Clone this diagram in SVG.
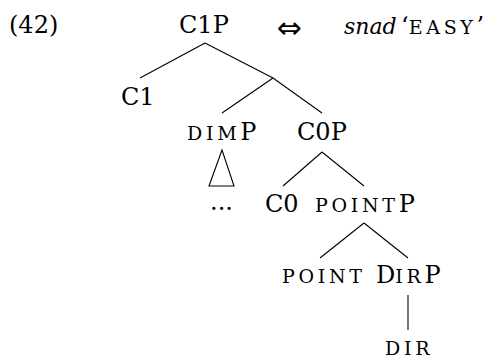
<svg xmlns="http://www.w3.org/2000/svg" width="491" height="361" viewBox="0 0 491 361">
<style>
text{font-family:"DejaVu Serif","Liberation Serif",serif;font-size:24px;fill:#000}
.sc{font-size:19px;letter-spacing:3.7px}
.it{font-style:italic;font-size:22px}
.arr{font-family:"DejaVu Sans",sans-serif;font-size:30px}
#connectors line,#connectors polygon{stroke:#000;stroke-width:1.1;fill:none}
</style>
<rect width="491" height="361" fill="#fff"/>
<g id="connectors">
<line x1="205" y1="43" x2="140" y2="78"/>
<line x1="205" y1="43" x2="273" y2="78"/>
<line x1="273" y1="78" x2="222" y2="113"/>
<line x1="273" y1="78" x2="322" y2="113"/>
<polygon points="222,150 209,186 234,186"/>
<line x1="322" y1="152" x2="283" y2="186"/>
<line x1="322" y1="152" x2="364" y2="186"/>
<line x1="364" y1="223" x2="320" y2="258"/>
<line x1="364" y1="223" x2="408" y2="258"/>
<line x1="408" y1="295" x2="408" y2="330"/>
</g>
<g id="label42"><text x="9" y="33">(42)</text></g>
<g id="C1P"><text x="179" y="33">C1P</text></g>
<g id="equiv"><text class="arr" x="289" y="38" text-anchor="middle">⇔</text></g>
<g id="gloss"><text y="34"><tspan class="it" x="344">snad</tspan><tspan x="401">‘</tspan><tspan class="sc">EASY</tspan><tspan>’</tspan></text></g>
<g id="C1"><text x="121" y="105">C1</text></g>
<g id="DIMP"><text x="187" y="140"><tspan class="sc">DIM</tspan>P</text></g>
<g id="C0P"><text x="297" y="140">C0P</text></g>
<g id="dots"><text x="210" y="210">...</text></g>
<g id="C0"><text x="265" y="212">C0</text></g>
<g id="POINTP"><text x="315" y="212"><tspan class="sc">POINT</tspan>P</text></g>
<g id="POINT"><text x="282" y="283" class="sc">POINT</text></g>
<g id="DIRP"><text x="376" y="283">D<tspan class="sc">IR</tspan>P</text></g>
<g id="DIR"><text x="385" y="355" class="sc">DIR</text></g>
</svg>
